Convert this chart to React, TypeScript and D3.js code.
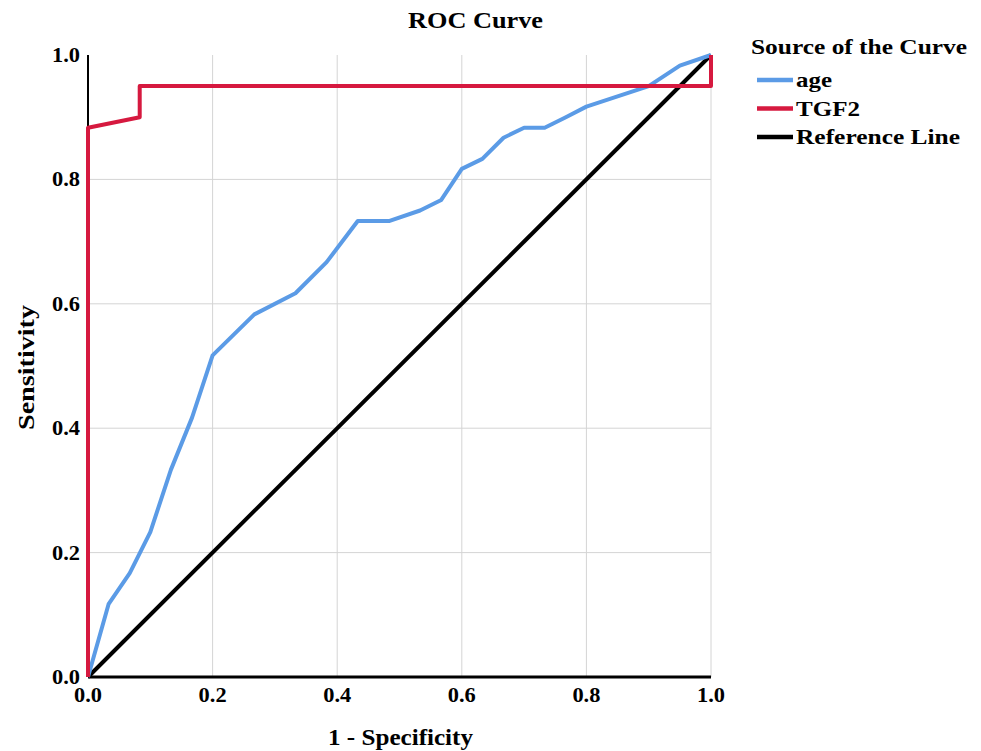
import React from "react";
import * as d3 from "d3";

// ROC coordinates (1 - specificity, sensitivity)
const ageX = [0, 0.033, 0.067, 0.1, 0.133, 0.167, 0.2, 0.267, 0.333, 0.383, 0.433, 0.483, 0.533, 0.567, 0.6, 0.633, 0.667, 0.7, 0.733, 0.767, 0.8, 0.9, 0.95, 1];
const ageY = [0, 0.117, 0.167, 0.233, 0.333, 0.417, 0.517, 0.583, 0.617, 0.667, 0.733, 0.733, 0.75, 0.767, 0.817, 0.833, 0.867, 0.883, 0.883, 0.9, 0.917, 0.95, 0.983, 1];
const tgfX = [0, 0, 0.083, 0.083, 1, 1];
const tgfY = [0, 0.883, 0.9, 0.95, 0.95, 1];
const refX = [0, 1];
const refY = [0, 1];
const ticks = [0, 0.2, 0.4, 0.6, 0.8, 1.0];
const legendNames = ["age", "TGF2", "Reference Line"];
const legendWidths = [36, 64, 164];
const colors = ["#5b9be6", "#d6193f", "#000000"];

const font = "'Liberation Serif', 'Times New Roman', serif";

export default function App() {
  const width = 981;
  const height = 751;
  const x = d3.scaleLinear().domain([0, 1]).range([88, 711]);
  const y = d3.scaleLinear().domain([0, 1]).range([677, 55]);

  const line = d3
    .line<[number, number]>()
    .x((d) => x(d[0]))
    .y((d) => y(d[1]));

  const series = [
    ageX.map((v, i) => [v, ageY[i]] as [number, number]),
    tgfX.map((v, i) => [v, tgfY[i]] as [number, number]),
    refX.map((v, i) => [v, refY[i]] as [number, number]),
  ];

  return (
    <svg
      width={width}
      height={height}
      style={{ position: "absolute", left: 0, top: 0, background: "#fff" }}
      fontFamily={font}
      fontWeight="bold"
    >
      {/* grid */}
      {ticks.slice(1).map((t) => (
        <line key={"gx" + t} x1={x(t)} x2={x(t)} y1={y(1)} y2={y(0)} stroke="#d4d4d4" strokeWidth={1} />
      ))}
      {ticks.slice(1, -1).map((t) => (
        <line key={"gy" + t} x1={x(0)} x2={x(1)} y1={y(t)} y2={y(t)} stroke="#d4d4d4" strokeWidth={1} />
      ))}

      {/* axes */}
      <line x1={x(0)} x2={x(0)} y1={y(1)} y2={y(0)} stroke="#000" strokeWidth={2} />
      <line x1={x(0)} x2={x(1)} y1={y(0)} y2={y(0)} stroke="#000" strokeWidth={3} />

      {ticks.map((t) => (
        <text key={"ty" + t} x={x(0) - 36} y={y(t)} dy="0.35em" fontSize={20} textLength={28} lengthAdjust="spacingAndGlyphs">
          {t.toFixed(1)}
        </text>
      ))}
      {ticks.map((t) => (
        <text key={"tx" + t} x={x(t) - 14} y={y(0) + 25} fontSize={20} textLength={28} lengthAdjust="spacingAndGlyphs">
          {t.toFixed(1)}
        </text>
      ))}

      {/* curves */}
      {[2, 0, 1].map((i) => (
        <path
          key={"s" + i}
          d={line(series[i]) || ""}
          fill="none"
          stroke={colors[i]}
          strokeWidth={4}
          strokeLinejoin="round"
        />
      ))}

      {/* titles */}
      <text x={408} y={28} fontSize={23} textLength={135} lengthAdjust="spacingAndGlyphs">
        ROC Curve
      </text>
      <text x={328} y={745} fontSize={23} textLength={145} lengthAdjust="spacingAndGlyphs">
        1 - Specificity
      </text>
      <text transform={`translate(34,430) rotate(-90)`} fontSize={23} textLength={125} lengthAdjust="spacingAndGlyphs">
        Sensitivity
      </text>

      {/* legend */}
      <text x={751} y={54} fontSize={22} textLength={216} lengthAdjust="spacingAndGlyphs">
        Source of the Curve
      </text>
      {legendNames.map((n, i) => (
        <g key={n} transform={`translate(757,${80 + i * 28.5})`}>
          <line x1={0} x2={36} y1={0} y2={0} stroke={colors[i]} strokeWidth={4.5} />
          <text x={39} y={0} dy="0.33em" fontSize={22} textLength={legendWidths[i]} lengthAdjust="spacingAndGlyphs">
            {n}
          </text>
        </g>
      ))}
    </svg>
  );
}
